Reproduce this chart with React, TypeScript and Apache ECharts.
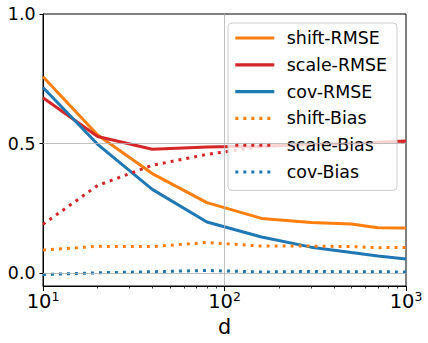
import React, { useEffect, useRef } from 'react';
import * as echarts from 'echarts';

const dValues = [10, 20, 40, 80, 160, 300, 500, 700, 1000];
const shiftRMSE = [0.758, 0.533, 0.384, 0.272, 0.211, 0.195, 0.189, 0.175, 0.174];
const scaleRMSE = [0.677, 0.527, 0.478, 0.487, 0.490, 0.495, 0.500, 0.505, 0.510];
const covRMSE = [0.716, 0.497, 0.323, 0.197, 0.139, 0.100, 0.079, 0.066, 0.054];
const shiftBias = [0.089, 0.103, 0.102, 0.118, 0.104, 0.104, 0.102, 0.098, 0.099];
const scaleBias = [0.188, 0.338, 0.416, 0.458, 0.488, 0.497, 0.500, 0.503, 0.507];
const covBias = [-0.006, 0.001, 0.005, 0.010, 0.004, 0.006, 0.005, 0.005, 0.004];
const yTicks = [0, 0.5, 1.0];
const seriesNames = ['shift-RMSE', 'scale-RMSE', 'cov-RMSE', 'shift-Bias', 'scale-Bias', 'cov-Bias'];
const gridLinesY = [0, 0.5];
const gridLinesX = [100];
const minorDecades = [1, 2];
const minorMultipliers = [2, 3, 4, 5, 6, 7, 8, 9];

const ORANGE = '#ff7f0e';
const RED = '#d62728';
const BLUE = '#1f77b4';
const FONT = 'DejaVu Sans';

function mk(name: string, vals: number[], color: string, dotted: boolean) {
  return {
    name,
    type: 'line',
    data: dValues.map((d, i) => [d, vals[i]]),
    symbol: 'none',
    showSymbol: false,
    z: 3,
    lineStyle: { color, width: 3, type: dotted ? [3, 5] : 'solid', cap: 'butt' },
    itemStyle: { color },
  };
}

export default function App() {
  const ref = useRef<HTMLDivElement>(null);
  useEffect(() => {
    if (!ref.current) return;
    const chart = echarts.init(ref.current, null, { renderer: 'svg' });
    const minorVals: number[] = [];
    minorDecades.forEach((d) => minorMultipliers.forEach((m) => minorVals.push(d + Math.log10(m))));
    chart.setOption({
      animation: false,
      textStyle: { fontFamily: FONT },
      grid: {
        left: 43, right: 22, top: 14, bottom: 57,
        show: true, borderColor: '#000', borderWidth: 1,
        containLabel: false, outerBoundsMode: 'none',
      },
      legend: {
        data: seriesNames,
        orient: 'vertical',
        left: 228,
        top: 23,
        itemWidth: 39,
        itemHeight: 14,
        itemGap: 6.8,
        padding: [5, 10, 8.4, 5.7],
        backgroundColor: 'rgba(255,255,255,0.8)',
        borderColor: '#cccccc',
        borderWidth: 1,
        borderRadius: 4,
        itemStyle: { opacity: 0 },
        lineStyle: { width: 3.2 },
        textStyle: { fontSize: 17.4, color: '#000', fontFamily: FONT, lineHeight: 20, padding: [0, 0, 0, 7.5] },
      },
      xAxis: [
        {
          type: 'log',
          logBase: 10,
          min: 10,
          max: 1000,
          position: 'bottom',
          axisLine: { show: true, onZero: false, lineStyle: { color: '#000', width: 1 } },
          axisTick: { show: true, length: 5, lineStyle: { color: '#000', width: 1 } },
          axisLabel: {
            margin: 4,
            color: '#000',
            formatter: (v: number) => '{b|10}{s|' + Math.round(Math.log10(v)) + '}',
            rich: {
              b: { fontSize: 19.5, lineHeight: 22, color: '#000', fontFamily: FONT },
              s: { fontSize: 12.5, lineHeight: 15, verticalAlign: 'top', color: '#000', fontFamily: FONT },
            },
          },
          splitLine: { show: false },
          name: 'd',
          nameLocation: 'middle',
          nameGap: 30,
          nameTextStyle: { fontSize: 20.8, color: '#000', fontFamily: FONT },
        },
        {
          type: 'value',
          min: 1,
          max: 3,
          position: 'bottom',
          axisLine: { show: false, onZero: false },
          axisTick: { show: true, length: 2.5, customValues: minorVals, lineStyle: { color: '#000', width: 0.8 } },
          axisLabel: { show: false },
          splitLine: { show: false },
        },
      ],
      yAxis: {
        type: 'value',
        min: -0.05,
        max: 1.0,
        axisLine: { show: true, onZero: false, lineStyle: { color: '#000', width: 1 } },
        axisTick: { show: true, length: 3.5, customValues: yTicks, lineStyle: { color: '#000', width: 1 } },
        axisLabel: {
          customValues: yTicks,
          formatter: (v: number) => v.toFixed(1),
          fontSize: 17.4,
          color: '#000',
          margin: 7.5,
          fontFamily: FONT,
        },
        splitLine: { show: false },
      },
      series: [
        {
          name: 'gridlines',
          type: 'line',
          data: [],
          z: 1,
          silent: true,
          markLine: {
            silent: true,
            symbol: ['none', 'none'],
            label: { show: false },
            lineStyle: { color: '#b0b0b0', width: 0.8, type: 'solid' },
            data: [
              ...gridLinesY.map((y) => ({ yAxis: y })),
              ...gridLinesX.map((x) => ({ xAxis: x })),
            ],
          },
        },
        mk(seriesNames[0], shiftRMSE, ORANGE, false),
        mk(seriesNames[1], scaleRMSE, RED, false),
        mk(seriesNames[2], covRMSE, BLUE, false),
        mk(seriesNames[3], shiftBias, ORANGE, true),
        mk(seriesNames[4], scaleBias, RED, true),
        mk(seriesNames[5], covBias, BLUE, true),
      ],
    });
    return () => chart.dispose();
  }, []);
  return <div ref={ref} style={{ position: 'absolute', left: 0, top: 0, width: 428, height: 343 }} />;
}
